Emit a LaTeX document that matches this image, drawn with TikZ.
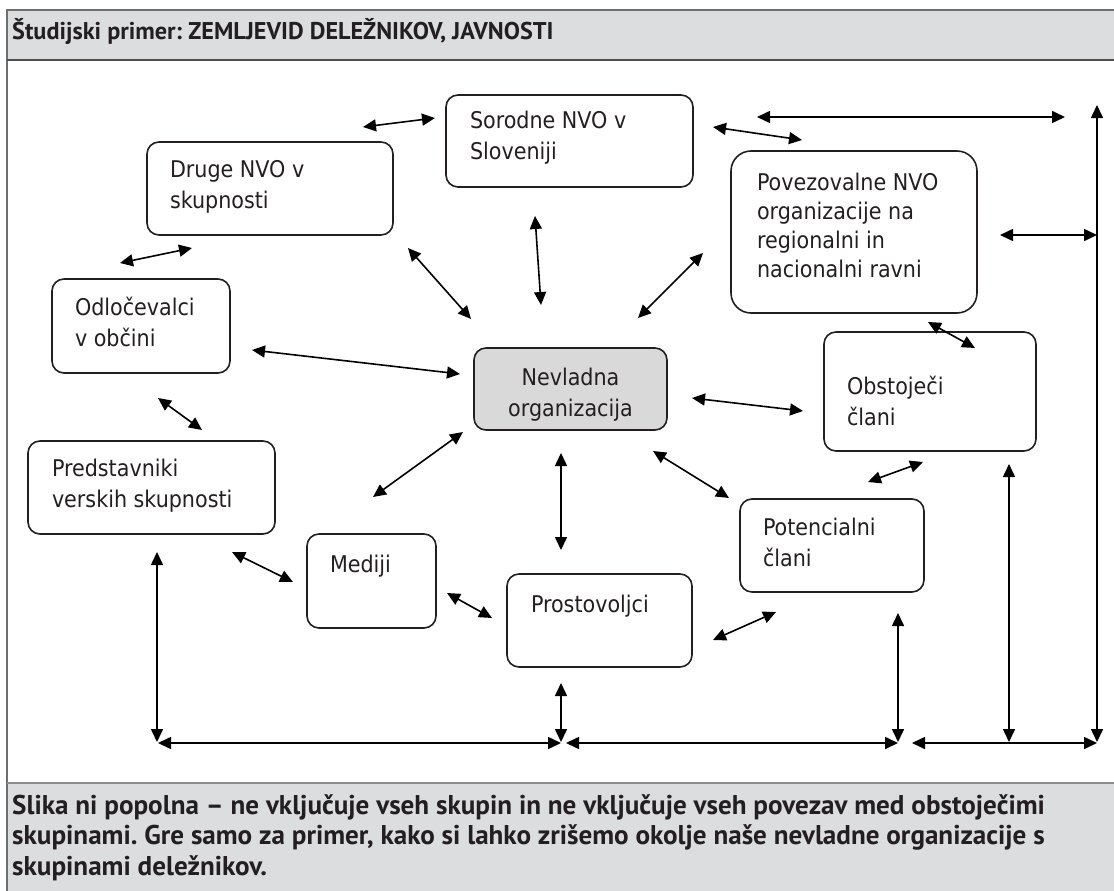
\documentclass[tikz,border=0pt]{standalone}
\usepackage{fontspec}
\setmainfont{DejaVu Sans Condensed}
\newfontfamily\hdrfont{PT Sans}[Scale=1.45]
\usetikzlibrary{arrows.meta}
\definecolor{panel}{HTML}{DCDDDF}
\definecolor{core}{HTML}{D9D9D9}
\definecolor{ink}{HTML}{231F20}
\definecolor{rulegray}{HTML}{6D6E70}
\frenchspacing
\newcommand{\bt}[5]{\parbox[c][#2][t]{#1}{\vspace*{\dimexpr#4-\ht\strutbox\relax}\raggedright\leftskip=#3\relax\strut #5\par}}
\begin{document}
\begin{tikzpicture}[x=1pt,y=-1pt,
  box/.style={draw=ink, line width=1.6pt, rounded corners=12pt, inner sep=0pt, fill=white, text=ink, font=\fontsize{23}{31}\selectfont},
  arr/.style={{Triangle[length=13pt,width=12pt]}-{Triangle[length=13pt,width=12pt]}, line width=1.6pt, draw=black},
  hdr/.style={inner sep=0pt, text=ink, font=\hdrfont\bfseries\fontsize{16.7}{30.5}\selectfont},
  ftr/.style={inner sep=0pt, text=ink, font=\hdrfont\bfseries\fontsize{18.7}{30.5}\selectfont}]
\useasboundingbox (0,0) rectangle (1114,891);
% frame
\fill[panel] (7,10) rectangle (1114,60);
\fill[panel] (7,783) rectangle (1114,891);
\draw[rulegray, line width=1.2pt] (1114,10) -- (7,10) -- (7,891);
\draw[ink!80, line width=1.2pt] (7,60) -- (1114,60);
\draw[black!45, line width=1.5pt] (7,783) -- (1114,783);
\node[hdr, anchor=base west] (title) at (12,40) {Študijski primer: ZEMLJEVID DELEŽNIKOV, JAVNOSTI};
\node[ftr, anchor=base west] (note) at (12,814) {\parbox[t]{1100pt}{\raggedright Slika ni popolna – ne vključuje vseh skupin in ne vključuje vseh povezav med obstoječimi\\skupinami. Gre samo za primer, kako si lahko zrišemo okolje naše nevladne organizacije s\\skupinami deležnikov.}};
% boxes
\node[box] (sor) at (569.5,141) {\bt{247pt}{92pt}{24pt}{33pt}{Sorodne NVO v\\Sloveniji}};
\node[box] (dru) at (270,188.5) {\bt{246pt}{93pt}{23pt}{35pt}{Druge NVO v\\skupnosti}};
\node[box] (odl) at (141,326) {\bt{178pt}{94pt}{23pt}{36pt}{Odločevalci\\v občini}};
\node[box] (pre) at (151.5,487.5) {\bt{247pt}{93pt}{24pt}{35pt}{Predstavniki\\verskih skupnosti}};
\node[box] (med) at (371.5,581) {\bt{129pt}{94pt}{23pt}{38pt}{Mediji}};
\node[box] (pro) at (599.5,620.5) {\bt{185pt}{93pt}{24pt}{38pt}{Prostovoljci}};
\node[box] (pot) at (832,545.5) {\bt{184pt}{93pt}{23pt}{36pt}{Potencialni\\člani}};
\node[box] (obs) at (930,391.5) {\bt{212pt}{119pt}{23pt}{62pt}{Obstoječi\\člani}};
\node[box, rounded corners=20pt, font=\fontsize{23}{29}\selectfont] (pov) at (854,232) {\bt{246pt}{162pt}{26pt}{39pt}{Povezovalne NVO\\organizacije na\\regionalni in\\nacionalni ravni}};
\node[box, fill=core] (nvo) at (570.5,389) {\parbox[c][82pt][t]{193pt}{\vspace*{\dimexpr37pt-\ht\strutbox\relax}\centering\strut Nevladna\\organizacija\par}};
% connectors
\foreach \n/\xa/\ya/\xb/\yb in {
  a1/363/127/435/118, a2/713/127/802/140, a3/757/117/1065/117,
  a4/1097/105/1097/742, a5/1000/235/1097/235, a6/120/263/192/248,
  a7/408/248/471/319, a8/535/216/541/305, a9/638/318/703/253,
  a10/252/350/460/374, a11/158/398/202/430, a12/373/497/463/432,
  a13/232/552/293/582, a14/447/593/492/618, a15/561/453/561/550,
  a16/653/451/729/498, a17/692/398/803/411, a18/713/640/776/612,
  a19/868/482/923/462, a20/928/322/975/348, a21/898/613/898/742,
  a22/1009/464/1009/742, a23/912/743/1097/743, a24/566/743/898/743,
  a25/158/743/561/743, a26/157/552/157/742, a27/561/683/561/742}{
  \coordinate (\n-s) at (\xa,\ya);
  \coordinate (\n-e) at (\xb,\yb);
  \draw[arr] (\n-s) -- (\n-e);
}
\end{tikzpicture}
\end{document}
